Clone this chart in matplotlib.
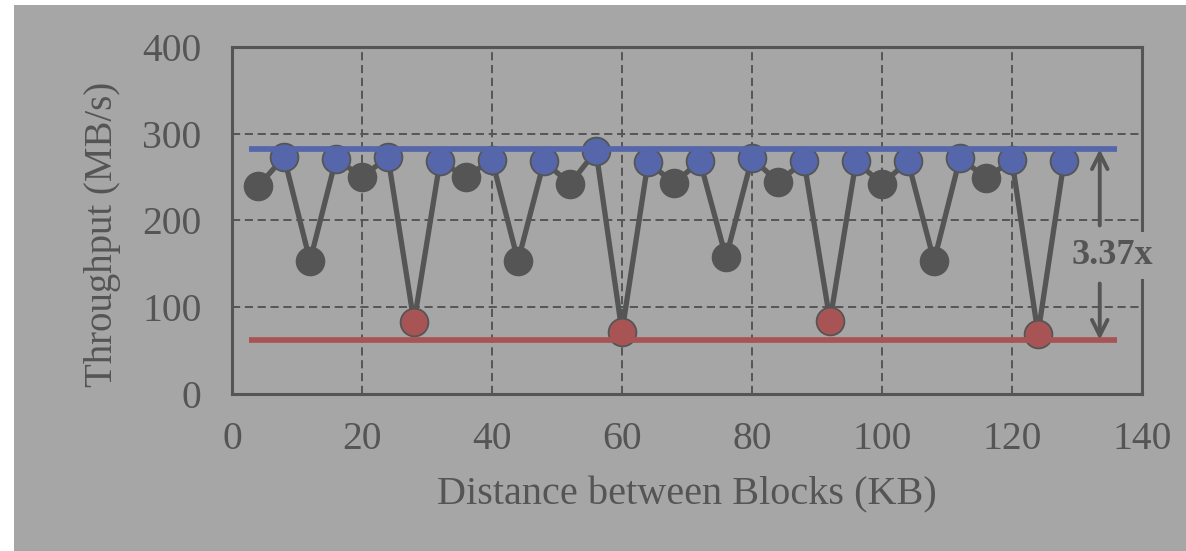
import matplotlib
matplotlib.use("Agg")
import matplotlib.pyplot as plt
from matplotlib.patches import Rectangle

# Distance between blocks (KB) and measured throughput (MB/s)
distance_kb = [4, 8, 12, 16, 20, 24, 28, 32, 36, 40, 44, 48, 52, 56, 60, 64,
               68, 72, 76, 80, 84, 88, 92, 96, 100, 104, 108, 112, 116, 120, 124, 128]
throughput = [239, 273, 153, 271, 250, 273, 82, 268, 250, 270, 153, 268, 242, 280, 71, 267,
              243, 268, 157, 272, 244, 268, 84, 268, 242, 268, 153, 272, 249, 269, 69, 268]
# point class: 'hi' = aligned peak, 'lo' = worst-case dip, 'mid' = other
point_class = ['mid', 'hi', 'mid', 'hi', 'mid', 'hi', 'lo', 'hi', 'mid', 'hi', 'mid', 'hi',
               'mid', 'hi', 'lo', 'hi', 'mid', 'hi', 'mid', 'hi', 'mid', 'hi', 'lo', 'hi',
               'mid', 'hi', 'mid', 'hi', 'mid', 'hi', 'lo', 'hi']

peak_level = 282
floor_level = 62
level_span = [2.6, 136.2]
speedup_text = "3.37x"

x_ticks = [0, 20, 40, 60, 80, 100, 120, 140]
y_ticks = [0, 100, 200, 300, 400]

BG = "#a6a6a6"
DARK = "#555555"
BLUE = "#5566aa"
RED = "#a85454"
class_colors = {'hi': BLUE, 'lo': RED, 'mid': DARK}

plt.rcParams['font.family'] = ['Liberation Serif', 'DejaVu Serif']

fig = plt.figure(figsize=(11.86, 5.51), dpi=100, facecolor="white")
fig.patches.append(Rectangle((14 / 1186, 0), 1 - 14 / 1186, 1 - 5 / 551,
                             transform=fig.transFigure, facecolor=BG,
                             edgecolor="none", zorder=-1))

ax = fig.add_axes([232 / 1186, 1 - 393.5 / 551, 910 / 1186, 346.5 / 551])
ax.set_facecolor(BG)

# connecting line through all points
ax.plot(distance_kb, throughput, color=DARK, linewidth=3.8, zorder=3,
        solid_joinstyle='miter')

# markers coloured by class
for cls, col in class_colors.items():
    xs = [x for x, c in zip(distance_kb, point_class) if c == cls]
    ys = [y for y, c in zip(throughput, point_class) if c == cls]
    ax.plot(xs, ys, linestyle='none', marker='o', markersize=20,
            markerfacecolor=col, markeredgecolor=DARK, markeredgewidth=1.3,
            zorder=4)

# reference levels
ax.plot(level_span, [peak_level, peak_level], color=BLUE, linewidth=4.1, zorder=5,
        solid_capstyle='butt')
ax.plot(level_span, [floor_level, floor_level], color=RED, linewidth=4.1, zorder=5,
        solid_capstyle='butt')

ax.set_xlim(0, 140)
ax.set_ylim(0, 400)
ax.set_xticks(x_ticks)
ax.set_yticks(y_ticks)
ax.tick_params(axis='both', length=0, labelsize=28.5, labelcolor=DARK)
ax.tick_params(axis='x', pad=20)
ax.tick_params(axis='y', pad=22)

ax.grid(True, color=DARK, linestyle=(0, (4.2, 2.4)), linewidth=1.4, zorder=1)
ax.set_axisbelow(True)
for sp in ax.spines.values():
    sp.set_color(DARK)
    sp.set_linewidth(2.2)

ax.set_xlabel("Distance between Blocks (KB)", fontsize=29, color=DARK, va='center')
ax.xaxis.set_label_coords(0.5, -0.293)
ax.set_ylabel("Throughput (MB/s)", fontsize=28, color=DARK, va='center')
ax.yaxis.set_label_coords(-0.142, 0.46)

# ratio annotation with arrows
arrow_x = 133.5
ax.annotate("", xy=(arrow_x, peak_level), xytext=(arrow_x, 194),
            arrowprops=dict(arrowstyle='->', color=DARK, lw=2.8,
                            mutation_scale=28, shrinkA=0, shrinkB=0), zorder=6)
ax.annotate("", xy=(arrow_x, floor_level), xytext=(arrow_x, 127),
            arrowprops=dict(arrowstyle='->', color=DARK, lw=2.8,
                            mutation_scale=28, shrinkA=0, shrinkB=0), zorder=6)
ax.text(135.5, 159, speedup_text, fontsize=26, fontweight='bold', color=DARK,
        ha='center', va='center', zorder=7, clip_on=False,
        bbox=dict(facecolor=BG, edgecolor='none', pad=5))

fig.savefig("out.png", dpi=100, facecolor=fig.get_facecolor())
